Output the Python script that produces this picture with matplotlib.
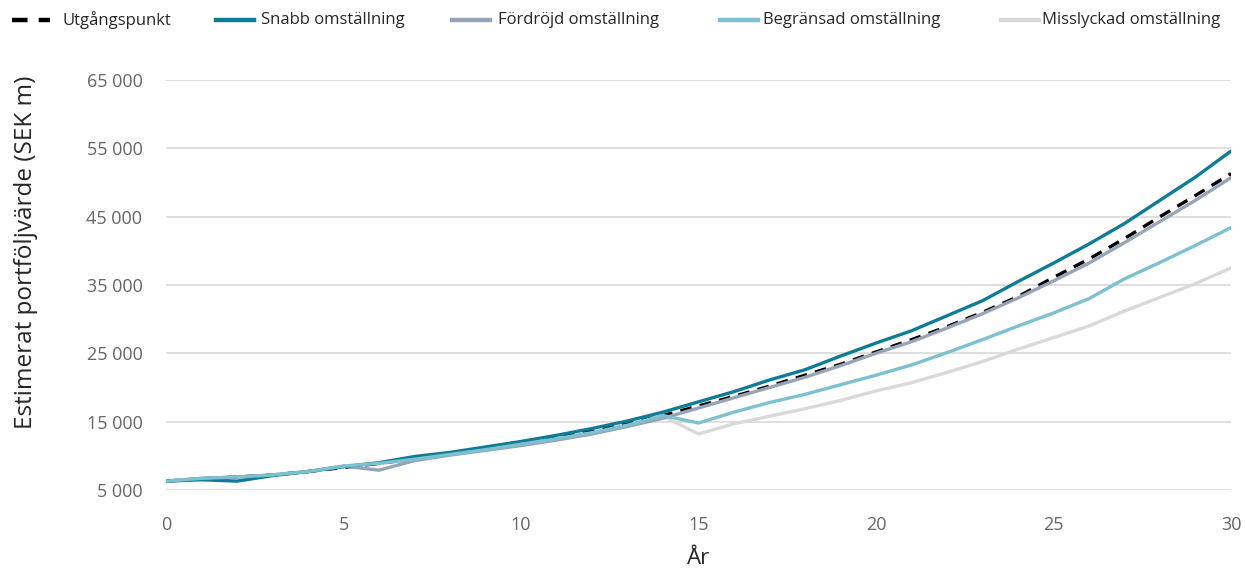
import matplotlib.pyplot as plt
from matplotlib.lines import Line2D
from matplotlib.ticker import FuncFormatter

plt.rcParams['font.family'] = ['Open Sans', 'DejaVu Sans']

years = list(range(31))

utgang = [6300, 6650, 6900, 7200, 7700, 8300, 8900, 9600, 10300, 11200, 12000,
          12800, 13700, 14700, 15900, 17300, 18700, 20200, 21800, 23400, 25200,
          27000, 28900, 31000, 33300, 36100, 38800, 41800, 45000, 48100, 51300]
snabb = [6300, 6500, 6300, 7100, 7700, 8400, 9000, 9900, 10500, 11300, 12100,
         13000, 14000, 15100, 16400, 17900, 19400, 21100, 22600, 24600, 26500,
         28300, 30500, 32700, 35500, 38200, 41000, 44000, 47400, 50800, 54600]
fordrojd = [6300, 6700, 6900, 7200, 7700, 8500, 7900, 9300, 10100, 10800, 11500,
            12300, 13200, 14300, 15500, 17000, 18500, 20000, 21500, 23200, 25000,
            26700, 28700, 30800, 33100, 35600, 38200, 41200, 44300, 47400, 50700]
begransad = [6300, 6700, 6900, 7200, 7700, 8500, 8900, 9500, 10200, 10900, 11700,
             12500, 13400, 14500, 15900, 14800, 16400, 17800, 19000, 20400, 21800,
             23300, 25100, 27000, 29000, 30900, 33000, 35900, 38300, 40800, 43400]
misslyckad = [6300, 6700, 6900, 7200, 7700, 8500, 8900, 9500, 10200, 10900, 11700,
              12500, 13400, 14500, 15800, 13200, 14700, 15800, 16900, 18100, 19500,
              20700, 22200, 23800, 25600, 27300, 29000, 31200, 33200, 35200, 37500]

labels = ['Utgångspunkt', 'Snabb omställning', 'Fördröjd omställning',
          'Begränsad omställning', 'Misslyckad omställning']
colors = ['black', '#0E7C96', '#97A3B6', '#7DC0D0', '#D9D9D9']
series = [utgang, snabb, fordrojd, begransad, misslyckad]
zorders = [2, 4, 3, 5, 1]
dash = (0, (3.5, 2.5))

fig = plt.figure(figsize=(12.45, 5.68), dpi=100)
ax = fig.add_axes([166 / 1245, 1 - 490 / 568, (1231 - 166) / 1245, 410 / 568])

for vals, lab, col, z in zip(series, labels, colors, zorders):
    ls = dash if lab == 'Utgångspunkt' else '-'
    ax.plot(years, vals, color=col, lw=2.4, ls=ls, zorder=z, label=lab,
            solid_capstyle='round')

ax.set_xlim(0, 30)
ax.set_ylim(5000, 65000)
ax.set_xticks(range(0, 31, 5))
ax.set_yticks(range(5000, 65001, 10000))
ax.yaxis.set_major_formatter(FuncFormatter(lambda v, p: f'{int(v):,}'.replace(',', ' ')))
ax.grid(axis='y', color='#D9D9D9', lw=1.2, zorder=0)
ax.set_axisbelow(True)
for s in ax.spines.values():
    s.set_visible(False)
ax.tick_params(length=0, labelsize=13, labelcolor='#666666')
ax.tick_params(axis='y', pad=17)
ax.tick_params(axis='x', pad=19)
ax.set_ylabel('Estimerat portföljvärde (SEK m)', fontsize=17.5, color='#262626')
ax.yaxis.set_label_coords(-0.12, 0.58)
ax.set_xlabel('År', fontsize=16, color='#262626', labelpad=10)

# legend entries laid out across the top
handle_x = [12, 216, 452, 720, 1001]
text_x = [62, 261, 498, 763, 1042]
for x0, xt, lab, col in zip(handle_x, text_x, labels, colors):
    ls = dash if lab == 'Utgångspunkt' else '-'
    y = 1 - 20 / 568
    fig.add_artist(Line2D([x0 / 1245, (x0 + 38) / 1245], [y, y], color=col,
                          lw=3.2, ls=ls, transform=fig.transFigure))
    fig.text(xt / 1245, y, lab, fontsize=12, color='#262626',
             va='center', ha='left')

fig.savefig('out.png', dpi=100)
